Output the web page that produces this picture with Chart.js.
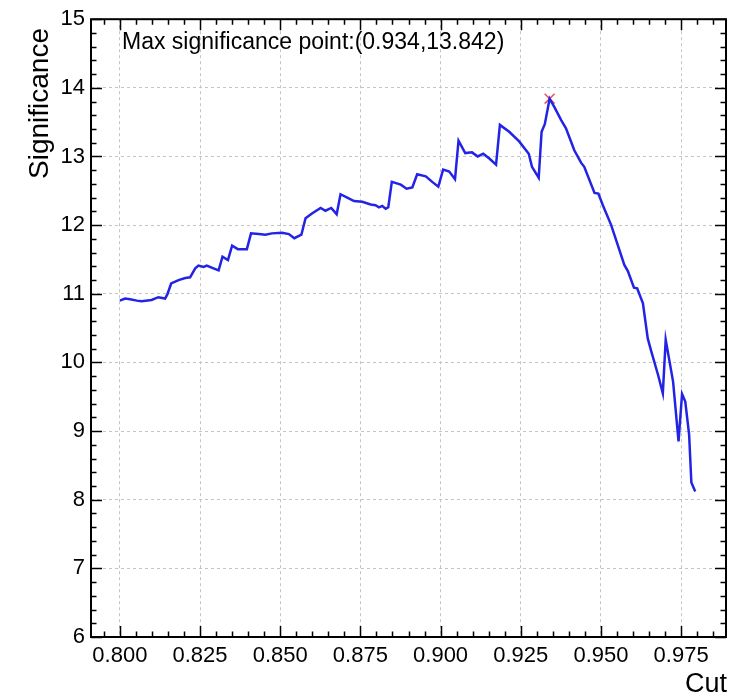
<!DOCTYPE html>
<html>
<head>
<meta charset="utf-8">
<script src="https://cdn.jsdelivr.net/npm/chart.js@4/dist/chart.umd.min.js"></script>
<style>
  html, body { margin: 0; padding: 0; background: #ffffff; }
  canvas { display: block; }
</style>
</head>
<body>
<canvas id="sig" width="740" height="696"></canvas>
<script>
// Cut scan: significance versus cut value
const cutValues = [
  0.8000, 0.8016, 0.8032, 0.8053, 0.8068, 0.8099, 0.8120, 0.8141, 0.8148, 0.8160,
  0.8183, 0.8204, 0.8219, 0.8235, 0.8245, 0.8261, 0.8271, 0.8292, 0.8308, 0.8320,
  0.8337, 0.8350, 0.8368, 0.8396, 0.8409, 0.8433, 0.8454, 0.8474, 0.8506, 0.8527,
  0.8544, 0.8566, 0.8579, 0.8599, 0.8626, 0.8641, 0.8659, 0.8676, 0.8688, 0.8709,
  0.8730, 0.8756, 0.8782, 0.8797, 0.8808, 0.8818, 0.8829, 0.8837, 0.8848, 0.8876,
  0.8894, 0.8912, 0.8927, 0.8954, 0.8974, 0.8993, 0.9008, 0.9027, 0.9045, 0.9056,
  0.9077, 0.9098, 0.9116, 0.9133, 0.9152, 0.9173, 0.9185, 0.9214, 0.9245, 0.9275,
  0.9285, 0.9306, 0.9315, 0.9325, 0.9340, 0.9355, 0.9376, 0.9391, 0.9417, 0.9438,
  0.9448, 0.9480, 0.9492, 0.9506, 0.9532, 0.9573, 0.9584, 0.9603, 0.9613, 0.9631,
  0.9646, 0.9657, 0.9678, 0.9693, 0.9702, 0.9725, 0.9742, 0.9753, 0.9763, 0.9775,
  0.9782, 0.9794
];
const significanceValues = [
  10.90, 10.93, 10.92, 10.90, 10.89, 10.91, 10.95, 10.93, 10.99, 11.15,
  11.20, 11.23, 11.24, 11.37, 11.41, 11.39, 11.41, 11.37, 11.34, 11.54,
  11.49, 11.70, 11.65, 11.65, 11.88, 11.87, 11.86, 11.88, 11.89, 11.87,
  11.81, 11.86, 12.10, 12.17, 12.25, 12.21, 12.25, 12.16, 12.45, 12.40,
  12.35, 12.34, 12.30, 12.29, 12.26, 12.28, 12.24, 12.26, 12.63, 12.59,
  12.53, 12.55, 12.74, 12.71, 12.63, 12.56, 12.81, 12.78, 12.67, 13.23,
  13.05, 13.06, 13.00, 13.04, 12.97, 12.88, 13.46, 13.36, 13.22, 13.04,
  12.85, 12.69, 13.36, 13.47, 13.842, 13.72, 13.53, 13.41, 13.09, 12.91,
  12.85, 12.47, 12.46, 12.29, 12.00, 11.42, 11.33, 11.09, 11.08, 10.86,
  10.35, 10.16, 9.82, 9.55, 10.33, 9.72, 8.85, 9.54, 9.43, 8.95,
  8.25, 8.12
];
const maxCut = 0.934;
const maxSignificance = 13.842;

const xTickValues = [0.800, 0.825, 0.850, 0.875, 0.900, 0.925, 0.950, 0.975];
const yTickValues = [6, 7, 8, 9, 10, 11, 12, 13, 14, 15];

const X_MIN = 0.791, X_MAX = 0.989;
const Y_MIN = 6, Y_MAX = 15;
const FONT = '"Liberation Sans", Arial, Helvetica, sans-serif';

const linePoints = cutValues.map((c, i) => ({ x: c, y: significanceValues[i] }));

// Frame, inward tick marks on all four sides, axis titles and the annotation
const decorations = {
  id: 'decorations',
  afterDraw(chart) {
    const ctx = chart.ctx;
    const a = chart.chartArea;
    const xs = chart.scales.x, ys = chart.scales.y;
    ctx.save();
    ctx.strokeStyle = '#000000';
    ctx.lineWidth = 1.5;
    ctx.beginPath();
    // x ticks: major every 0.025, minor every 0.005
    for (let i = 158; i <= 197; i++) {
      const v = i * 0.005;
      if (v < X_MIN || v > X_MAX) continue;
      const px = Math.round(xs.getPixelForValue(v)) + 0.5;
      const len = (i % 5 === 0) ? 11 : 5.5;
      ctx.moveTo(px, a.bottom); ctx.lineTo(px, a.bottom - len);
      ctx.moveTo(px, a.top); ctx.lineTo(px, a.top + len);
    }
    // y ticks: major every 1, minor every 0.2
    for (let i = 30; i <= 75; i++) {
      const v = i * 0.2;
      const py = Math.round(ys.getPixelForValue(v)) + 0.5;
      const len = (i % 5 === 0) ? 11 : 5.5;
      ctx.moveTo(a.left, py); ctx.lineTo(a.left + len, py);
      ctx.moveTo(a.right, py); ctx.lineTo(a.right - len, py);
    }
    ctx.stroke();

    ctx.lineWidth = 2;
    ctx.strokeRect(a.left, a.top, a.right - a.left, a.bottom - a.top);

    // axis titles
    ctx.fillStyle = '#000000';
    ctx.font = '27px ' + FONT;
    ctx.textAlign = 'right';
    ctx.textBaseline = 'alphabetic';
    ctx.fillText('Cut', a.right + 1, 692);

    ctx.save();
    ctx.font = '28px ' + FONT;
    ctx.translate(48, 28);
    ctx.rotate(-Math.PI / 2);
    ctx.textAlign = 'right';
    ctx.fillText('Significance', 0, 0);
    ctx.restore();

    // annotation
    ctx.font = '23px ' + FONT;
    ctx.textAlign = 'left';
    ctx.fillText('Max significance point:(' + maxCut.toFixed(3) + ',' + maxSignificance.toFixed(3) + ')', 122, 49);
    ctx.restore();
  }
};

new Chart(document.getElementById('sig'), {
  type: 'scatter',
  data: {
    datasets: [
      {
        data: linePoints,
        showLine: true,
        borderColor: '#2323e6',
        borderWidth: 2.5,
        pointRadius: 0,
        tension: 0,
        fill: false
      },
      {
        data: [{ x: maxCut, y: maxSignificance }],
        showLine: false,
        pointStyle: 'crossRot',
        pointRadius: 7,
        borderColor: 'rgba(230, 50, 60, 0.85)',
        borderWidth: 1.5
      }
    ]
  },
  options: {
    responsive: false,
    maintainAspectRatio: false,
    animation: false,
    layout: { padding: { top: 17, right: 14, left: 0, bottom: 0 } },
    plugins: {
      legend: { display: false },
      tooltip: { enabled: false }
    },
    scales: {
      x: {
        type: 'linear',
        min: X_MIN,
        max: X_MAX,
        afterBuildTicks(scale) { scale.ticks = xTickValues.map(v => ({ value: v })); },
        afterFit(scale) { scale.height = 59; },
        grid: { color: '#c4c4c4', lineWidth: 1, drawTicks: false },
        border: { display: false, dash: [3, 3] },
        ticks: {
          color: '#000000',
          padding: 6,
          maxRotation: 0,
          font: { family: FONT, size: 22 },
          callback: v => Number(v).toFixed(3)
        }
      },
      y: {
        type: 'linear',
        min: Y_MIN,
        max: Y_MAX,
        afterBuildTicks(scale) { scale.ticks = yTickValues.map(v => ({ value: v })); },
        afterFit(scale) { scale.width = 91; },
        grid: { color: '#c4c4c4', lineWidth: 1, drawTicks: false },
        border: { display: false, dash: [3, 3] },
        ticks: {
          color: '#000000',
          padding: 6,
          font: { family: FONT, size: 22 },
          callback: v => String(v)
        }
      }
    }
  },
  plugins: [decorations]
});
</script>
</body>
</html>
